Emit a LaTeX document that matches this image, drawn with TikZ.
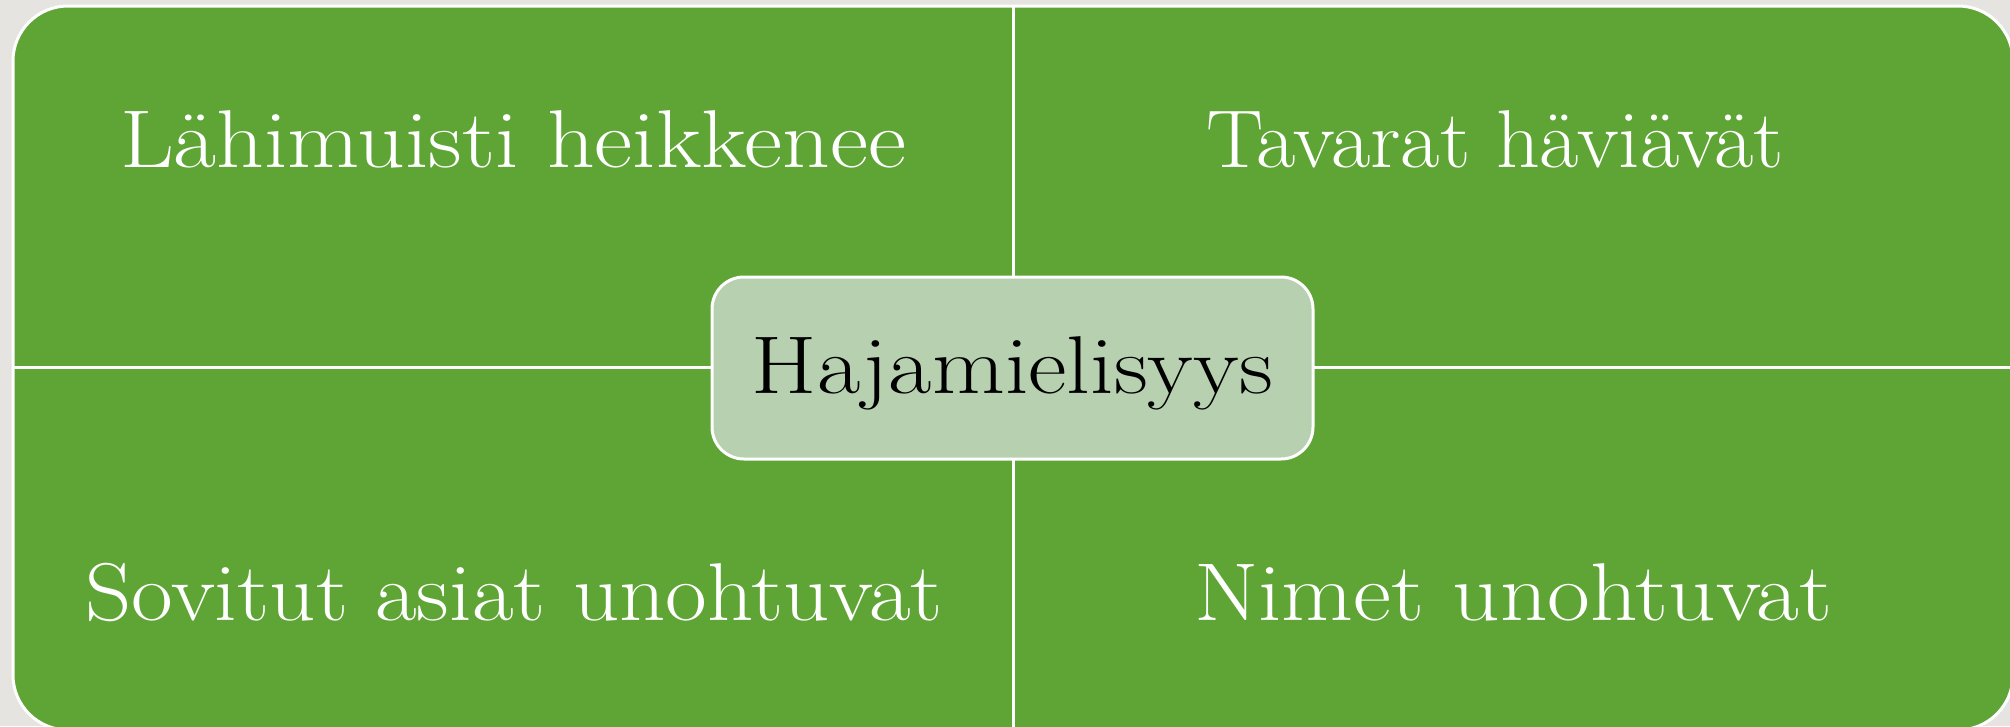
\documentclass[tikz,border=0pt]{standalone}
\usepackage{fontspec}
\definecolor{bgc}{HTML}{E5E4E1}
\definecolor{mgreen}{HTML}{5FA535}
\definecolor{lgreen}{HTML}{B7D0B0}
\begin{document}
\begin{tikzpicture}[x=1pt,y=-1pt,
  quadtext/.style={text=white,font=\fontsize{82}{90}\selectfont,anchor=base,inner sep=0pt},
  centerbox/.style={draw=white,line width=3pt,fill=lgreen,rounded corners=32pt,
    minimum width=601pt,minimum height=182pt,inner sep=0pt},
  centertext/.style={text=black,font=\fontsize{82}{90}\selectfont,anchor=base,inner sep=0pt},
  divider/.style={draw=white,line width=3pt}]
\useasboundingbox (0,0) rectangle (2010,726);
\clip (0,0) rectangle (2010,726);
\fill[bgc] (0,0) rectangle (2010,726);
\draw[white,line width=3pt,fill=mgreen,rounded corners=55pt] (13,6) rectangle (2013,730);
\coordinate (vtop) at (1013,6);
\coordinate (vbot) at (1013,730);
\coordinate (hleft) at (13,367);
\coordinate (hright) at (2013,367);
\draw[divider] (vtop) -- (vbot);
\draw[divider] (hleft) -- (hright);
\node[centerbox] (c) at (1012.5,368) {};
\node[centertext] (ct) at (1012.5,393) {\scalebox{1.15}[1]{Hajamielisyys}};
\node[quadtext] (q1) at (513,167) {\scalebox{1.14}[1]{Lähimuisti heikkenee}};
\node[quadtext] (q2) at (1495,167) {\scalebox{1.045}[1]{Tavarat häviävät}};
\node[quadtext] (q3) at (514,620) {\scalebox{1.105}[1]{Sovitut asiat unohtuvat}};
\node[quadtext] (q4) at (1513,620) {\scalebox{1.135}[1]{Nimet unohtuvat}};
\end{tikzpicture}
\end{document}
